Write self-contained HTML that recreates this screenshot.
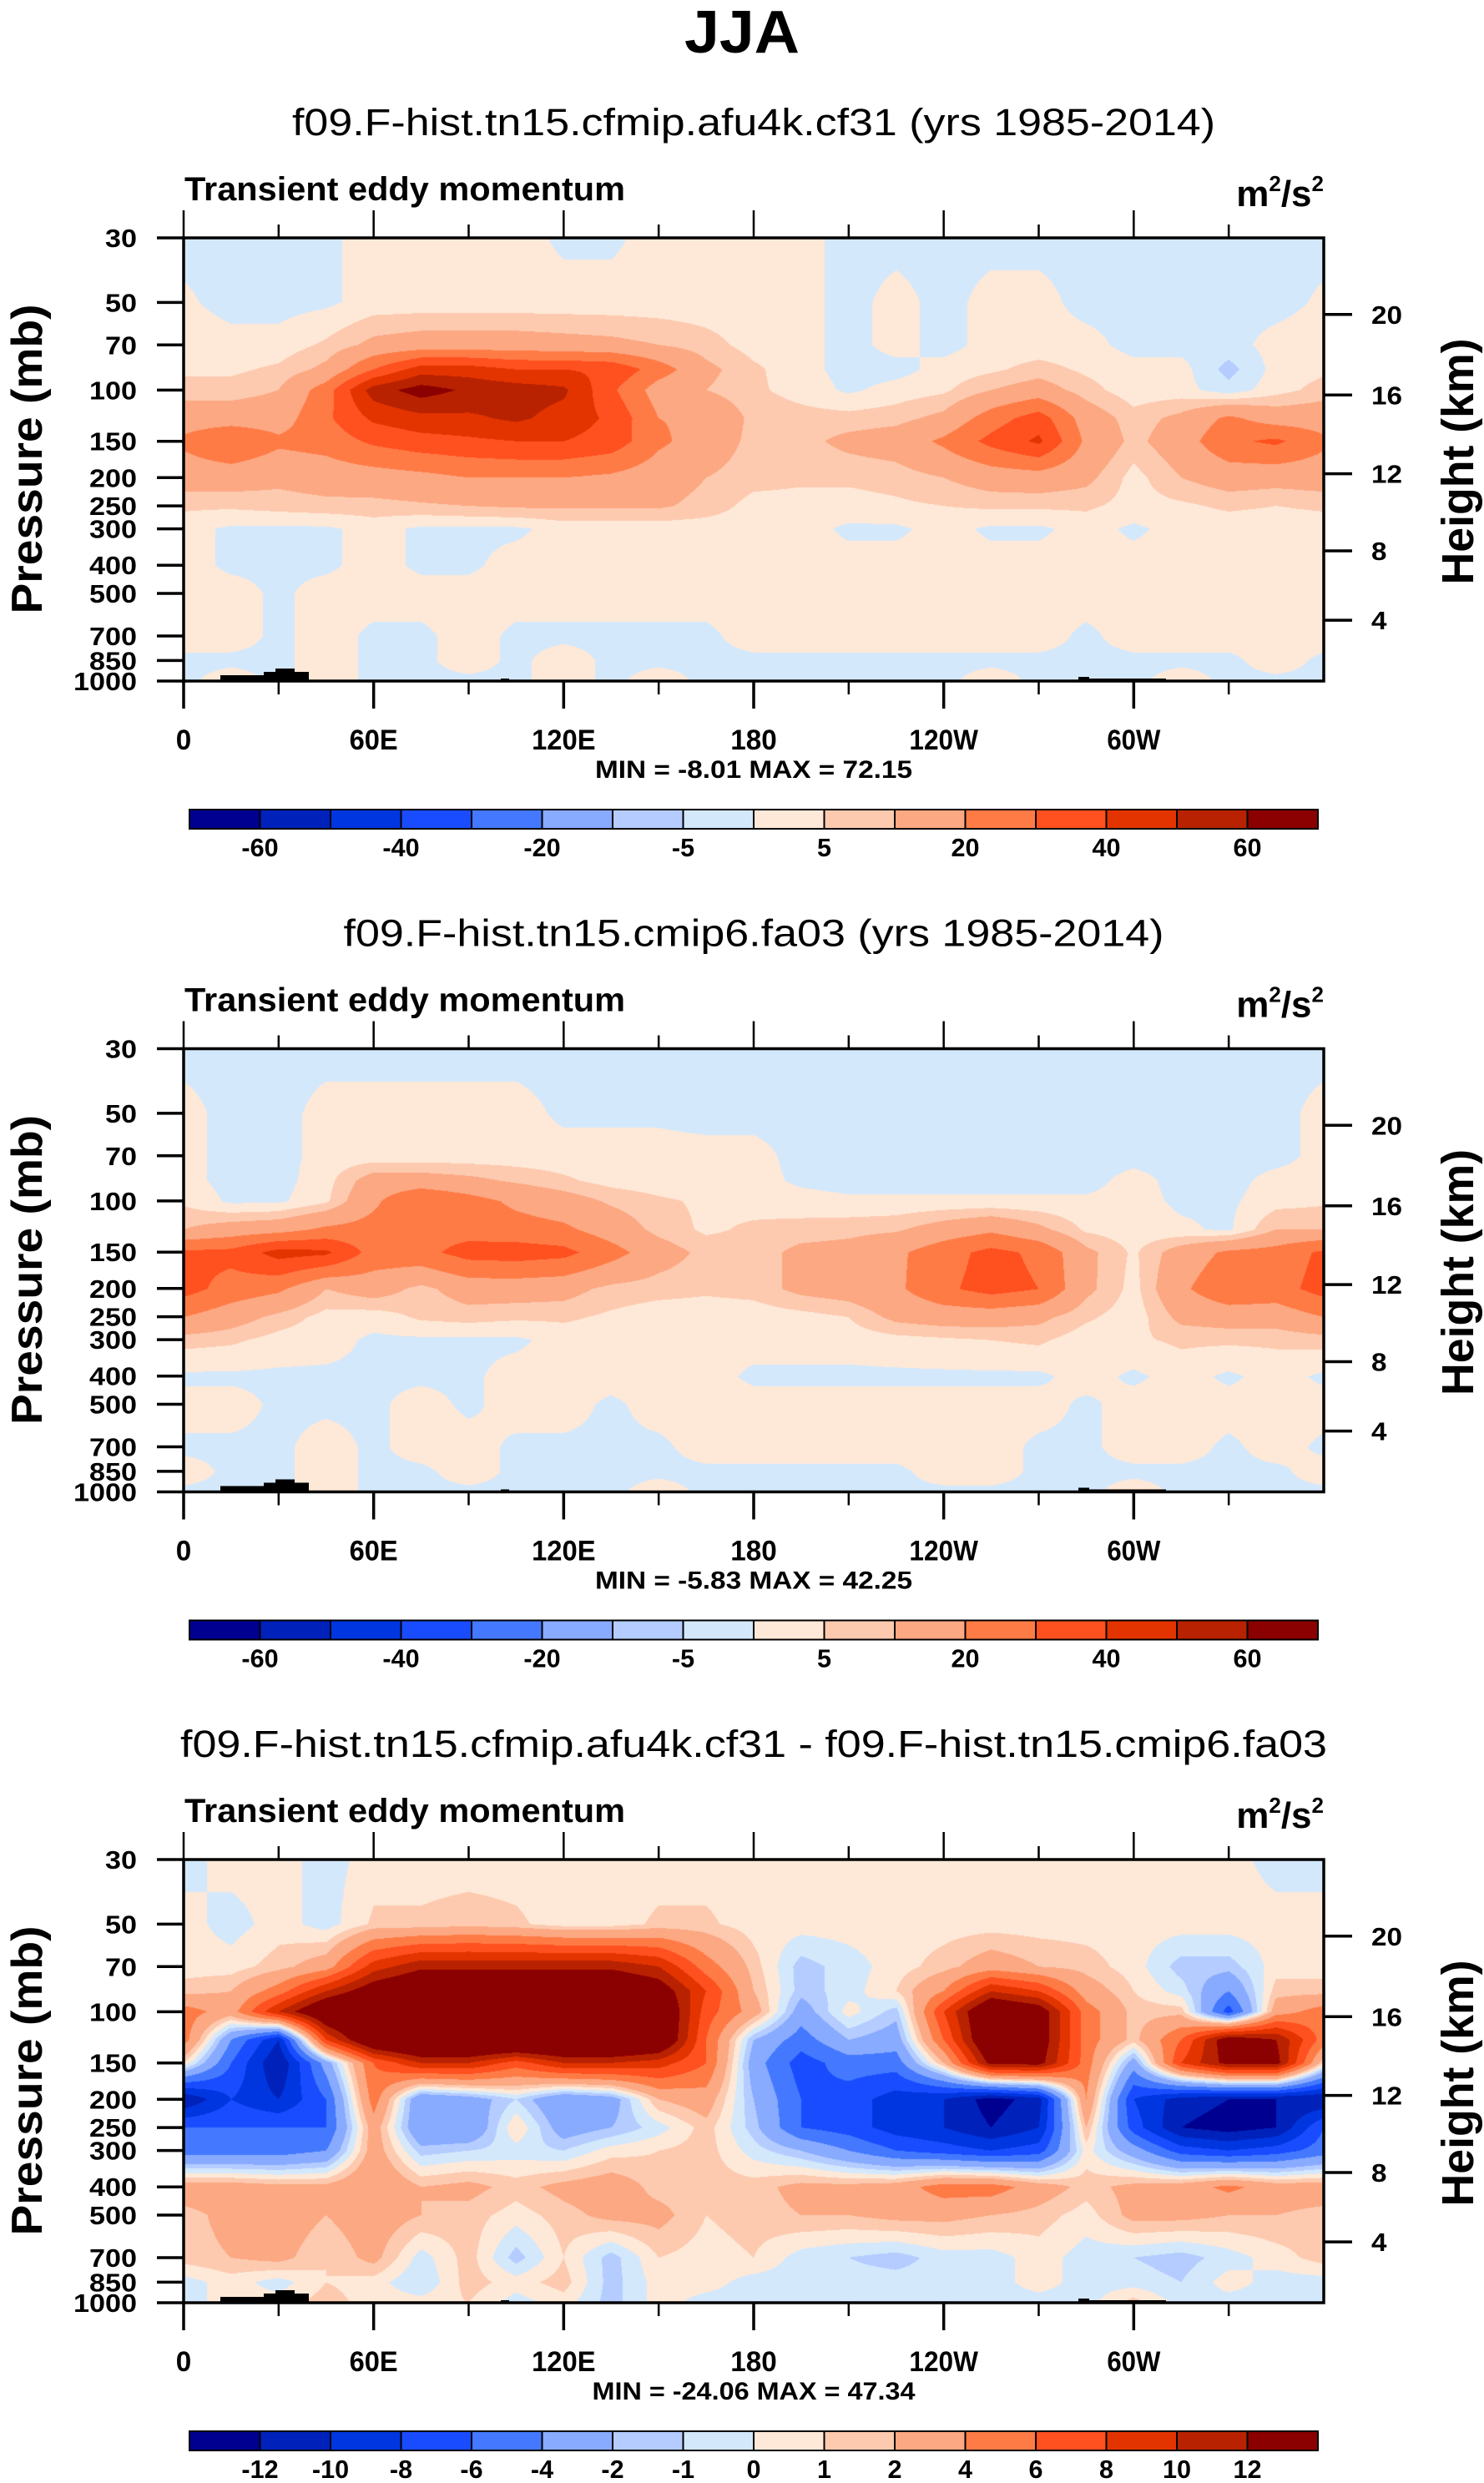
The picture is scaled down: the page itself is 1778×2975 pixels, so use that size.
<!DOCTYPE html>
<html><head><meta charset="utf-8">
<style>
html,body{margin:0;padding:0;background:#fff;}
#root{position:relative;width:1778px;height:2975px;overflow:hidden;background:#fff;}
canvas{position:absolute;left:220px;}
svg{position:absolute;left:0;top:0;}
text{font-family:"Liberation Sans",Arial,sans-serif;fill:#000;}
</style></head>
<body>
<div id="root">
<canvas id="c0" width="1366" height="531" style="top:285px"></canvas>
<canvas id="c1" width="1366" height="531" style="top:1256.5px"></canvas>
<canvas id="c2" width="1366" height="531" style="top:2228px"></canvas>
<svg id="ov" width="1778" height="2975" viewBox="0 0 1778 2975"></svg>
</div>
<script>
const lons = [0,15,30,45,60,75,90,105,120,135,150,165,180,195,210,225,240,255,270,285,300,315,330,345,360];
const pLevels = [30,50,70,85,100,125,150,200,250,300,400,500,700,850,1000];
const levelsAB = [-60,-50,-40,-30,-20,-10,-5,0,5,10,20,30,40,50,60];
const levelsC = [-12,-10,-8,-6,-4,-2,-1,0,1,2,4,6,8,10,12];
const cbLabelsAB = ['-60','','-40','','-20','','-5','','5','','20','','40','','60'];
const cbLabelsC = ['-12','-10','-8','-6','-4','-2','-1','0','1','2','4','6','8','10','12'];
const palette = ['#000090','#0022BB','#0036E0','#1A4CFF','#4479FF','#88AAFF','#B4CCFF','#D4E8FC','#FEE9D8','#FDCAB0','#FCA882','#FF7B46','#FF5020','#E33400','#B82200','#8B0000'];
const pTicks = [30,50,70,100,150,200,250,300,400,500,700,850,1000];
const heightTicks = ['20','16','12','8','4'];
const heightTickPressure = [55,104,194,357,618];
const lonMajor = [0,60,120,180,240,300];
const lonMajorLabels = ['0','60E','120E','180','120W','60W'];
const lonMinor = [30,90,150,210,270,330];
const titles = ['f09.F-hist.tn15.cfmip.afu4k.cf31 (yrs 1985-2014)','f09.F-hist.tn15.cmip6.fa03 (yrs 1985-2014)','f09.F-hist.tn15.cfmip.afu4k.cf31 - f09.F-hist.tn15.cmip6.fa03'];
const titleWidths = [1106,983,1374];
const minVals = ['-8.01','-5.83','-24.06'];
const maxVals = ['72.15','42.25','47.34'];

const fieldA = [
[-2,-2,-2,-1,2,2,2,2,-1,-1,2,2,2,2,-2,-2,-2,-2,-2,-2,-2,-2,-2,-2,-2],
[1,-2,-2,-1,2,2,2,2,2,2,2,2,2,2,-2,2,-2,2,2,-2,-2,-2,-2,-2,1],
[3,2,2,6,12,14,14,14,13,12,10,7,3,2,-2,2,-2,2,2,2,-2,-2,-2,2,3],
[4,4,6,12,30,45,45,40,40,38,25,12,6,2,-2,-2,2,4,7,4,2,2,-7,2,4],
[7,7,10,25,55,65,58,55,52,32,15,10,6,3,-1,2,4,10,14,7,2,2,-3,3,7],
[15,15,15,28,42,47,48,52,46,38,20,18,8,7,7,8,12,25,35,15,7,12,22,15,15],
[22,30,22,24,32,36,38,40,40,36,22,15,8,8,12,14,22,33,42,18,8,15,28,32,22],
[14,14,12,14,15,17,20,20,20,18,14,10,7,6,6,7,10,14,15,12,3,10,14,13,14],
[6,6,7,8,8,9,10,11,11,11,11,8,3,3,3,4,5,6,6,6,3,4,6,5,6],
[2,-1,-1,-1,2,-1,-1,-1,2,2,2,2,2,2,-1,-1,2,-1,-1,2,-1,2,2,2,2],
[2,-1,-1,-1,2,-1,-1,2,2,2,2,2,2,2,2,2,2,2,2,2,2,2,2,2,2],
[2,2,-1,2,2,2,2,2,2,2,2,2,2,2,2,2,2,2,2,2,2,2,2,2,2],
[2,2,-1,2,-1,-1,2,-1,-1,-1,-1,-1,2,2,2,2,2,2,2,-1,2,2,2,2,2],
[-1,-1,-1,2,-1,-1,2,-1,2,-1,-1,-1,-1,-1,-1,-1,-1,-1,-1,-1,-1,-1,-1,2,-1],
[-1,2,-1,2,-1,-1,-1,-1,2,-1,2,-1,-1,-1,-1,-1,-1,2,-1,-1,-1,2,-1,-1,-1]
];
const fieldB = [
[-2,-2,-2,-2,-2,-2,-2,-2,-2,-2,-2,-2,-2,-2,-2,-2,-2,-2,-2,-2,-2,-2,-2,-2,-2],
[2,-2,-2,2,2,2,2,2,-1,-1,-1,-2,-2,-2,-2,-2,-2,-2,-2,-2,-2,-2,-2,-2,2],
[2,-2,-2,2,2,2,2,2,2,2,2,2,2,-2,-2,-2,-2,-2,-2,-2,-2,-2,-2,-2,2],
[2,-2,-2,3,14,14,12,9,6,3,2,2,2,-1,-2,-2,-2,-2,-2,-2,2,-2,-2,2,2],
[4,-1,-1,4,18,30,24,18,14,9,6,4,3,2,1,1,1,1,1,1,2,-1,-1,3,4],
[10,14,16,22,24,26,26,24,22,15,8,4,6,7,8,9,14,18,12,4,2,1,-1,10,10],
[32,33,44,42,26,27,34,35,33,24,14,8,7,12,13,18,26,33,28,12,4,14,22,24,32],
[34,26,22,10,14,8,14,14,13,8,7,6,7,12,14,18,28,34,30,12,3,18,28,26,34],
[20,14,8,3,2,6,7,6,6,4,2,2,2,3,5,12,14,14,12,6,2,12,14,14,20],
[7,6,3,2,-1,-1,-1,-1,2,2,2,2,2,2,2,3,4,5,6,2,4,6,6,6,7],
[-1,-1,-1,-1,-1,-1,-1,2,2,2,2,2,-1,-1,-1,-1,-1,-1,-1,2,-1,2,-1,2,-1],
[2,2,-1,-1,-1,2,-1,2,2,-1,2,2,2,2,2,2,2,2,2,-1,2,2,2,2,2],
[-1,-1,-1,2,-1,2,2,-1,-1,-1,-1,2,2,2,2,2,2,2,-1,-1,2,2,-1,2,-1],
[2,-1,-1,2,-1,-1,2,-1,-1,-1,-1,-1,-1,-1,-1,-1,2,2,-1,-1,-1,-1,-1,-1,2],
[-1,-1,-1,2,-1,-1,-1,-1,-1,-1,2,-1,-1,-1,-1,-1,-1,-1,-1,-1,2,-1,-1,-1,-1]
];
const fieldC = [
[-0.5,0.5,0.5,-0.5,0.5,0.5,0.5,0.5,0.5,0.5,0.5,0.5,0.5,0.5,0.5,0.5,0.5,0.5,0.5,0.5,0.5,0.5,0.5,-0.5,-0.5],
[0.5,-0.5,0.5,-0.5,1.2,1.2,1.5,1.2,0.5,0.5,1.2,1.2,0.5,0.5,0.5,0.5,0.5,0.5,0.5,0.5,0.5,0.5,0.5,0.5,0.5],
[0.5,0.5,1.5,3,9,11.5,11.5,11.5,11.5,11.5,10,5,1.5,-1.5,-0.5,0.5,1.5,3,2,1.5,0.5,-1.5,-1.5,0.5,0.5],
[1.5,2,5,10,14,16,16,16,16,16,14,8,2,-1.5,-0.5,1,4,10,8,3,1,-0.5,-4,1.5,1.5],
[5,3,10,16,18,18,18,18,18,18,16,7,3,-3,0.5,-1.5,8,16,14,5,1.5,1.5,-7,3,5],
[5,-4,-10,8,16,18,18,18,18,18,16,6,-2,-5,-2,-3,6,16,14,5,1.5,6,14,12,5],
[1,-6,-12,-3,6,10,10,7,10,10,9,6,-3,-7,-5,-5,2,13,13,5,-3,8,13,13,1],
[-12,-8,-10,-6,5,-4,-3,-1,-4,-3,2,3,-2,-6,-7,-9,-10,-13,-11,4,-8,-11,-12,-12,-12],
[-6,-6,-6,-6,3,-4,-4,1,-3,-2,-0.5,1.5,-1.5,-6,-7,-9,-10,-12,-10,2,-7,-12,-13,-12,-6],
[-5,-5,-5,-4,3,-1.5,-1,-0.5,-1,0.5,1,1.5,-0.5,-2,-4,-6,-7,-8,-7,0.5,-3,-7,-8,-7,-5],
[3,3,2.5,2.5,4,2,2.5,1.5,2.5,3,1.5,1.5,1.5,2.5,2.5,3,5,5,3,1.5,2.5,3,4.5,3,3],
[1.5,2.5,3,2,3,2,1.5,0.5,1.5,2.5,2.5,1,1.5,2,2,2.5,2.5,2,1.5,0.5,2.5,2.5,2,2,1.5],
[1.5,2,2.5,1,2.5,-0.5,1.5,-1.5,1,-1.5,1,0.5,1,-0.5,-1,-1.5,-0.5,-0.5,0.5,-0.5,-1,-1.5,-0.5,0.5,1.5],
[-0.5,0.5,-0.5,1,0.5,-1,1.5,0.5,1.5,-1.5,0.5,0.5,-0.5,-0.5,-0.5,-0.5,-0.5,-0.5,0.5,-0.5,-0.5,-1,0.5,-0.5,-0.5],
[-0.5,0.5,0.5,1.5,0.5,0.5,1,-0.5,0.5,-1.5,0.5,-0.5,-0.5,-0.5,-0.5,-0.5,-0.5,-0.5,-0.5,-0.5,1.5,-0.5,-0.5,-0.5,-0.5]
];
const fields = [fieldA, fieldB, fieldC];
const levelSets = [levelsAB, levelsAB, levelsC];
const cbLabelSets = [cbLabelsAB, cbLabelsAB, cbLabelsC];
const panelOffsets = [0, 971.5, 1943];

const PL = 220, PW = 1366, PT = 285, PH = 531;
const LOGR = Math.log10(1000/30);
function xScale(lon){ return PL + lon/360*PW; }
function yScale(p){ return PT + Math.log10(p/30)/LOGR*PH; }
function hex(c){ return [parseInt(c.substr(1,2),16),parseInt(c.substr(3,2),16),parseInt(c.substr(5,2),16)]; }
const rgb = palette.map(hex);

function drawField(k){
  const cv = document.getElementById('c'+k), ctx = cv.getContext('2d');
  const img = ctx.createImageData(PW, PH), d = img.data;
  const F = fields[k], L = levelSets[k];
  const logP = pLevels.map(p=>Math.log10(p));
  for(let py=0; py<PH; py++){
    const lp = Math.log10(30) + (py+0.5)/PH*LOGR;
    let i=0; while(i<logP.length-2 && lp>logP[i+1]) i++;
    let t=(lp-logP[i])/(logP[i+1]-logP[i]); t=Math.max(0,Math.min(1,t));
    for(let px=0; px<PW; px++){
      const lon=(px+0.5)/PW*360;
      let j=Math.min(lons.length-2, Math.floor(lon/15));
      const s=(lon-lons[j])/(lons[j+1]-lons[j]);
      const v=(1-t)*((1-s)*F[i][j]+s*F[i][j+1]) + t*((1-s)*F[i+1][j]+s*F[i+1][j+1]);
      let ci=0; while(ci<L.length && v>=L[ci]) ci++;
      const c=rgb[ci], o=(py*PW+px)*4;
      d[o]=c[0]; d[o+1]=c[1]; d[o+2]=c[2]; d[o+3]=255;
    }
  }
  ctx.putImageData(img,0,0);
}
[0,1,2].forEach(drawField);

const NS='http://www.w3.org/2000/svg';
const svg=document.getElementById('ov');
function mk(tag, parent){ const e=document.createElementNS(NS,tag); parent.appendChild(e); return e; }
function txt(parent,x,y,str,size,name,anchor,weight,len){
  const t=mk('text',parent);
  
  
  t.setAttribute('x',x); t.setAttribute('y',y);
  t.setAttribute('font-size',size);
  t.setAttribute('text-anchor',anchor||'start');
  t.setAttribute('font-weight',weight||'bold');
  if(len){ t.setAttribute('textLength',len); t.setAttribute('lengthAdjust','spacingAndGlyphs'); }
  t.textContent=str; return t;
}
function line(parent,x1,y1,x2,y2,w,name){
  const l=mk('line',parent);
  
  
  l.setAttribute('x1',x1); l.setAttribute('y1',y1); l.setAttribute('x2',x2); l.setAttribute('y2',y2);
  l.setAttribute('stroke','#000'); l.setAttribute('stroke-width',w); return l;
}
function cw(s){ let w=0; for(const ch of s){ w+= ch==='W'?27 : ch==='E'?21 : ch==='-'?11 : 18.5; } return w; }

const main = txt(svg,889,63,'JJA',72,'main-title','middle','bold',138);

for(let k=0;k<3;k++){
  const g=mk('g',svg);
  
  
  g.setAttribute('transform','translate(0,'+panelOffsets[k]+')');
  txt(g,903,162,titles[k],45,'panel-title','middle','normal',titleWidths[k]);
  txt(g,221,240,'Transient eddy momentum',40,'field-name','start','bold',528);
  const u=txt(g,1586,247,'',44,'units-label','end','bold');
  const t1=document.createElementNS(NS,'tspan'); t1.textContent='m'; u.appendChild(t1);
  const t2=document.createElementNS(NS,'tspan'); t2.textContent='2'; t2.setAttribute('font-size','26'); t2.setAttribute('dy','-18'); u.appendChild(t2);
  const t3=document.createElementNS(NS,'tspan'); t3.textContent='/s'; t3.setAttribute('dy','18'); u.appendChild(t3);
  const t4=document.createElementNS(NS,'tspan'); t4.textContent='2'; t4.setAttribute('font-size','26'); t4.setAttribute('dy','-18'); u.appendChild(t4);

  const topo=[[264,316,7],[316,370,11],[330,353,15],[600,610,3],[1292,1305,5],[1305,1397,3]];
  topo.forEach(b=>{ const r=mk('rect',g);
    
    
    r.setAttribute('x',b[0]); r.setAttribute('y',PT+PH-b[2]); r.setAttribute('width',b[1]-b[0]); r.setAttribute('height',b[2]); r.setAttribute('fill','#000'); });

  const fr=mk('rect',g);
  
  
  fr.setAttribute('x',PL); fr.setAttribute('y',PT); fr.setAttribute('width',PW); fr.setAttribute('height',PH);
  fr.setAttribute('fill','none'); fr.setAttribute('stroke','#000'); fr.setAttribute('stroke-width',3.5);

  pTicks.forEach(p=>{ const y=yScale(p);
    line(g,188,y,PL,y,3.5,'y-tick');
    txt(g,164,y+11,String(p),31,'y-tick-label','end','bold',String(p).length*19);
  });
  const pl=txt(g,0,0,'Pressure (mb)',52,'y-axis-title','middle','bold',371);
  pl.setAttribute('transform','translate(50,550) rotate(-90)');
  heightTicks.forEach((h,i)=>{ const y=yScale(heightTickPressure[i]);
    line(g,PL+PW,y,1620,y,3.5,'height-tick');
    txt(g,1643,y+11,h,31,'height-tick-label','start','bold',h.length*18.5);
  });
  const hl=txt(g,0,0,'Height (km)',54,'right-axis-title','middle','bold',295);
  hl.setAttribute('transform','translate(1765,553) rotate(-90)');
  lonMajor.forEach((lon,i)=>{ const x=xScale(lon);
    line(g,x,PT-33,x,PT,2.5,'top-major-tick');
    line(g,x,PT+PH,x,PT+PH+33,3.5,'x-major-tick');
    txt(g,x,898,lonMajorLabels[i],34,'x-tick-label','middle','bold',cw(lonMajorLabels[i]));
  });
  lonMinor.forEach(lon=>{ const x=xScale(lon);
    line(g,x,PT-16,x,PT,2.5,'top-minor-tick');
    line(g,x,PT+PH,x,PT+PH+16,2.5,'x-minor-tick');
  });
  txt(g,903,932,'MIN = '+minVals[k]+'  MAX = '+maxVals[k],30,'min-max-label','middle','bold',k===2?387:380);

  const cbx=227, cbw=1352, cby=970, cbh=23, bw=cbw/16;
  palette.forEach((c,i)=>{ const r=mk('rect',g);
    
    
    r.setAttribute('x',cbx+i*bw); r.setAttribute('y',cby); r.setAttribute('width',bw); r.setAttribute('height',cbh);
    r.setAttribute('fill',c); r.setAttribute('stroke','#000'); r.setAttribute('stroke-width',2);
  });
  cbLabelSets[k].forEach((lab,i)=>{ if(!lab) return;
    txt(g,cbx+(i+1)*bw,1026,lab,31,'colorbar-label','middle','bold',cw(lab)*0.92);
  });
}
</script>
</body></html>
